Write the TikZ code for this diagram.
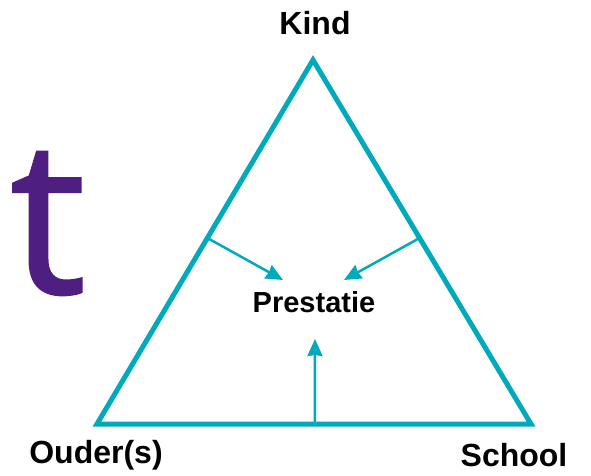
\documentclass[tikz,border=0pt]{standalone}
\usepackage{fontspec}
\setmainfont{Liberation Sans}
\newfontfamily\letterfont[FakeBold=1.2]{Open Sans}
\usepackage{tikz}
\usetikzlibrary{calc,arrows.meta}

\definecolor{teal}{RGB}{0,170,188}
\definecolor{paars}{RGB}{78,30,128}

\tikzset{
  hoek/.style={font=\fontsize{32}{38}\selectfont\bfseries, inner sep=0pt},
  pijl/.style={teal, line width=2.5pt, -{Stealth[length=17pt,width=15pt,inset=1pt]}},
}

\begin{document}
\begin{tikzpicture}[x=1pt,y=-1pt]
        \useasboundingbox (0,0) rectangle (591,476);
        % grote letter links
        \node[anchor=base west, inner sep=0pt, text=paars] (letter) at (10,293)
            {\letterfont\fontsize{214}{214}\selectfont t};
        % driehoek
        \coordinate (kind) at (313,60);
        \coordinate (ouder) at (97,424);
        \coordinate (school) at (531,424);
        \draw[teal, line width=5pt, line join=miter] (kind) -- (ouder) -- (school) -- cycle;
        % labels
        \node[hoek] (kindlabel) at (315,23) {Kind};
        \node[hoek] (ouderlabel) at (96,455) {Ouder(s)};
        \node[hoek] (schoollabel) at (514,455) {School};
        \node[font=\fontsize{29}{35}\selectfont\bfseries, inner sep=0pt] (prestatie) at (314,302) {Prestatie};
        % pijlen
        \coordinate (links) at ($(kind)!0.489!(ouder)$);
        \coordinate (rechts) at ($(kind)!0.489!(school)$);
        \coordinate (onder) at ($(ouder)!0.502!(school)$);
        \coordinate (tiplinks) at (283,280);
        \coordinate (tiprechts) at (344,280);
        \coordinate (tiponder) at (315,339);
        \draw[pijl] (links) -- (tiplinks);
        \draw[pijl] (rechts) -- (tiprechts);
        \draw[pijl] (onder) -- (tiponder);
    \end{tikzpicture}
\end{document}
